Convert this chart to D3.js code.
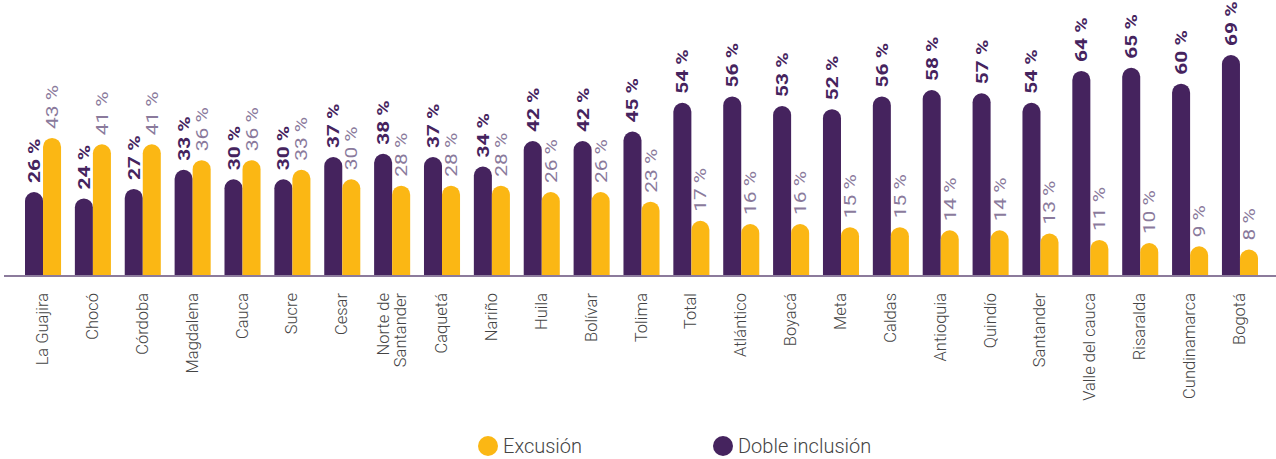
<!DOCTYPE html>
<html>
<head>
<meta charset="utf-8">
<script src="https://cdn.jsdelivr.net/npm/d3@7"></script>
<style>
  body { margin: 0; background: #fff; }
  svg { display: block; font-family: Roboto, "Noto Sans", sans-serif; }
</style>
</head>
<body>
<div id="chart"></div>
<script>
// departamentos
const categories = ['La Guajira', 'Chocó', 'Córdoba', 'Magdalena', 'Cauca', 'Sucre', 'Cesar',
  'Norte de Santander', 'Caquetá', 'Nariño', 'Huila', 'Bolívar', 'Tolima', 'Total', 'Atlántico',
  'Boyacá', 'Meta', 'Caldas', 'Antioquia', 'Quindío', 'Santander', 'Valle del cauca',
  'Risaralda', 'Cundinamarca', 'Bogotá'];
const dobleInclusion = [26, 24, 27, 33, 30, 30, 37, 38, 37, 34, 42, 42, 45, 54, 56, 53, 52, 56, 58, 57, 54, 64, 65, 60, 69];
const excusion = [43, 41, 41, 36, 36, 33, 30, 28, 28, 28, 26, 26, 23, 17, 16, 16, 15, 15, 14, 14, 13, 11, 10, 9, 8];
const seriesNames = ['Doble inclusión', 'Excusión'];

const width = 1276, height = 459;
const purple = '#45235e', yellow = '#fbb714';

const svg = d3.select('#chart').append('svg')
  .attr('width', width)
  .attr('height', height);

const x = d3.scaleBand().domain(categories).range([25, 1258]).paddingInner(0.277).paddingOuter(0);
const xs = d3.scaleBand().domain(['doble', 'excusion']).range([0, x.bandwidth()]);
const y = d3.scaleLinear().domain([0, 69]).range([275, 55]);

const rows = categories.map((c, i) => ({ cat: c, doble: dobleInclusion[i], excusion: excusion[i] }));

// bar con tapa redondeada
function roundTop(x0, w, yTop, yBase) {
  const r = w / 2;
  return `M${x0},${yBase} L${x0},${yTop + r} A${r},${r} 0 0 1 ${x0 + w},${yTop + r} L${x0 + w},${yBase} Z`;
}

const groups = svg.selectAll('.grp')
  .data(rows)
  .join('g')
  .attr('class', 'grp')
  .attr('transform', d => `translate(${x(d.cat)},0)`);

const keys = [
  { key: 'doble', color: purple, labelColor: purple, weight: 700 },
  { key: 'excusion', color: yellow, labelColor: '#8a7a9c', weight: 400 }
];

keys.forEach(k => {
  // texto condensado: alargado a lo largo, estrecho a lo ancho
  groups.append('text')
    .attr('transform', d => `translate(${xs(k.key) + xs.bandwidth() / 2 + 6},${y(d[k.key]) - 9}) rotate(-90) scale(1.1,0.88)`)
    .attr('fill', k.labelColor)
    .attr('font-size', 19)
    .attr('font-weight', k.weight)
    .text(d => d[k.key] + ' %');

  groups.append('path')
    .attr('fill', k.color)
    .attr('d', d => roundTop(xs(k.key), xs.bandwidth(), y(d[k.key]), y(0)));
});

// eje
svg.append('line')
  .attr('x1', 4).attr('x2', width)
  .attr('y1', y(0) + 1).attr('y2', y(0) + 1)
  .attr('stroke', '#8c7b9c')
  .attr('stroke-width', 2);

// etiquetas categoria
const catLabels = svg.selectAll('.cat')
  .data(categories)
  .join('text')
  .attr('class', 'cat')
  .attr('transform', d => `translate(${x(d) + x.bandwidth() / 2 + 5},293) rotate(-90)`)
  .attr('text-anchor', 'end')
  .attr('fill', '#444')
  .attr('font-size', 16.5)
  .attr('font-weight', 300);

catLabels.each(function(d) {
  const t = d3.select(this);
  if (d === 'Norte de Santander') {
    t.append('tspan').attr('x', 0).attr('dy', -8).text('Norte de');
    t.append('tspan').attr('x', 0).attr('dy', 17).text('Santander');
  } else {
    t.text(d);
  }
});

// leyenda
const legend = [
  { name: seriesNames[1], color: yellow, cx: 488, tx: 503 },
  { name: seriesNames[0], color: purple, cx: 723, tx: 738 }
];
const lg = svg.selectAll('.lg').data(legend).join('g').attr('class', 'lg');
lg.append('circle')
  .attr('cx', d => d.cx).attr('cy', 446).attr('r', 10)
  .attr('fill', d => d.color);
lg.append('text')
  .attr('x', d => d.tx).attr('y', 453)
  .attr('font-size', 20)
  .attr('font-weight', 300)
  .attr('fill', '#444')
  .text(d => d.name);
</script>
</body>
</html>
